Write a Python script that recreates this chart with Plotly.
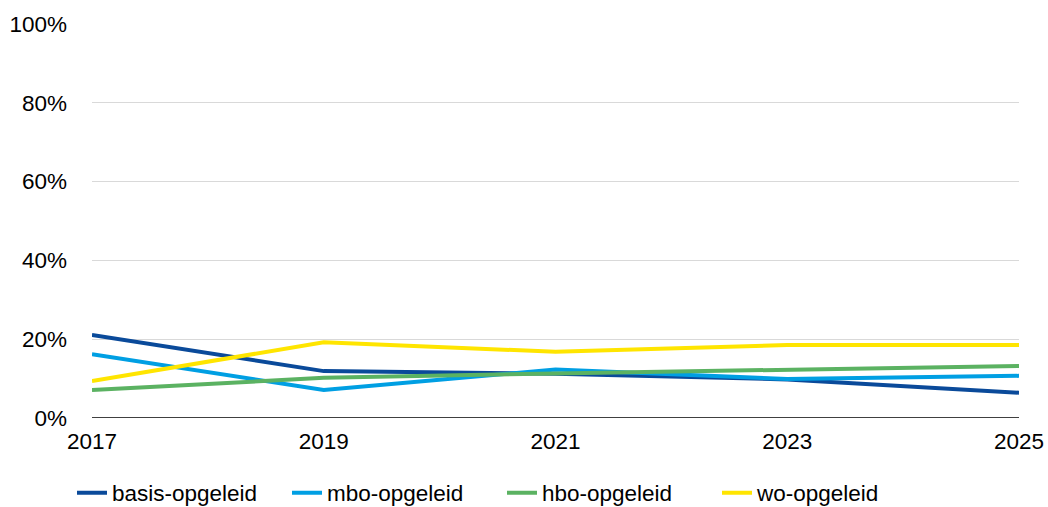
import plotly.graph_objects as go

years = [2017, 2019, 2021, 2023, 2025]
basis = [21.1, 11.9, 11.2, 9.8, 6.4]
mbo = [16.2, 7.1, 12.3, 9.9, 10.7]
hbo = [7.1, 10.2, 11.3, 12.2, 13.2]
wo = [9.4, 19.2, 16.8, 18.5, 18.5]

series = [
    ("basis-opgeleid", basis, "#0A4A9A"),
    ("mbo-opgeleid", mbo, "#009FE3"),
    ("hbo-opgeleid", hbo, "#5BB262"),
    ("wo-opgeleid", wo, "#FFE500"),
]

fig = go.Figure()
for name, vals, col in series:
    fig.add_trace(go.Scatter(x=years, y=[v / 100 for v in vals], name=name, mode="lines",
                             line=dict(color=col, width=4)))

FS = 22.5
W, H = 1048, 507
fig.update_layout(
    width=W, height=H,
    margin=dict(l=92, r=29, t=24, b=89, autoexpand=False),
    paper_bgcolor="white", plot_bgcolor="white",
    font=dict(family="Liberation Sans, Arial, sans-serif", size=FS, color="#000000"),
    showlegend=True,
    legend=dict(orientation="h", xref="container", yref="container",
                x=72 / W, xanchor="left", y=1 - 493 / H, yanchor="middle",
                font=dict(size=FS), entrywidth=170, entrywidthmode="pixels",
                itemwidth=30, tracegroupgap=0, bgcolor="rgba(0,0,0,0)"),
    xaxis=dict(range=[2017, 2025], tickvals=[2017, 2019, 2021, 2023, 2025], showgrid=False,
               zeroline=False, showline=False, ticks="", tickfont=dict(size=FS),
               ticklabelstandoff=7, automargin=False),
    yaxis=dict(range=[0, 1], tickvals=[0, 0.2, 0.4, 0.6, 0.8, 1.0], tickformat=".0%",
               showgrid=True, gridcolor="#D9D9D9", gridwidth=1, zeroline=False,
               showline=False, ticks="", ticklabelstandoff=24, tickfont=dict(size=FS),
               automargin=False),
)
fig.add_shape(type="line", xref="paper", yref="y", x0=0, x1=1, y0=0, y1=0,
              line=dict(color="#000000", width=1.5), layer="above")

fig.write_html(
    "out.html",
    config={"displayModeBar": False},
    post_script="document.body.style.margin='0';document.body.style.padding='0';",
)
